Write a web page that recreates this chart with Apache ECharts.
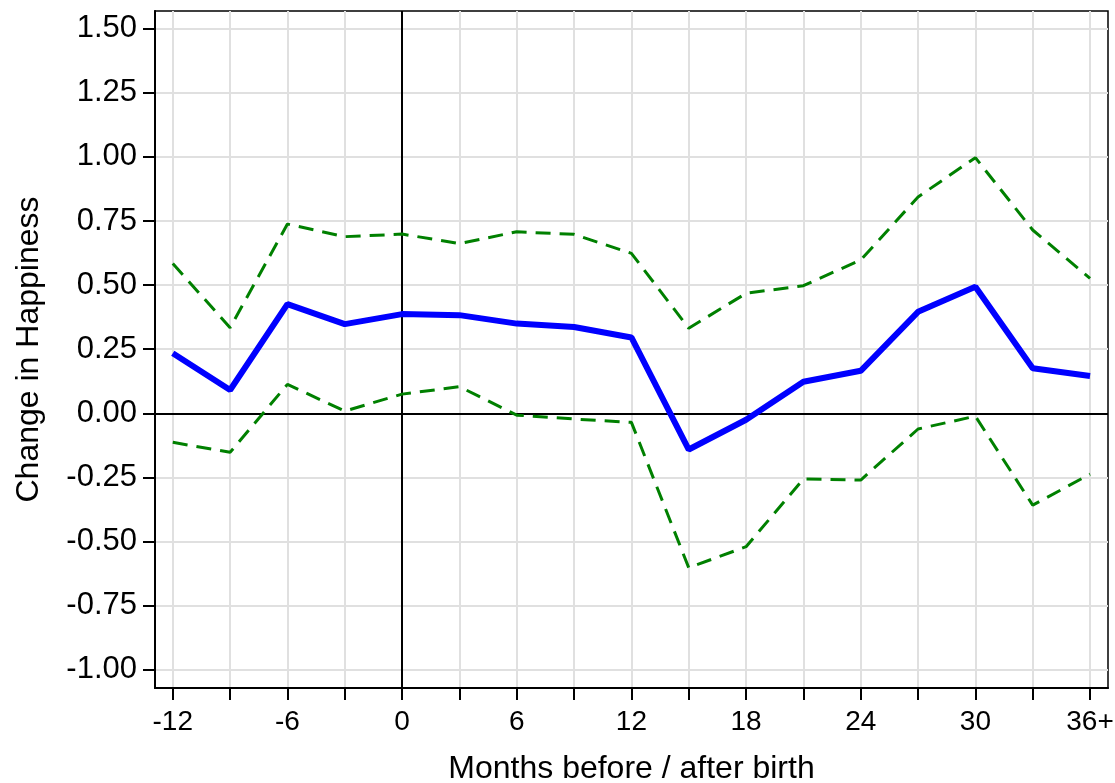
<!DOCTYPE html>
<html>
<head>
<meta charset="utf-8">
<script src="https://cdn.jsdelivr.net/npm/echarts@6/dist/echarts.min.js"></script>
<style>
  html, body { margin: 0; padding: 0; background: #fff; }
  #chart { width: 1115px; height: 783px; }
</style>
</head>
<body>
<div id="chart"></div>
<script>
// Months relative to birth (last bin is 36 and beyond)
const months = [-12, -9, -6, -3, 0, 3, 6, 9, 12, 15, 18, 21, 24, 27, 30, 33, 36];
// Estimated change in happiness
const estimate = [0.234, 0.091, 0.426, 0.348, 0.387, 0.383, 0.350, 0.337, 0.296, -0.141, -0.025, 0.123, 0.166, 0.396, 0.494, 0.176, 0.146];
// Confidence bounds
const upperCI = [0.584, 0.334, 0.738, 0.689, 0.699, 0.662, 0.708, 0.698, 0.624, 0.332, 0.468, 0.498, 0.598, 0.844, 0.997, 0.715, 0.526];
const lowerCI = [-0.113, -0.152, 0.113, 0.009, 0.075, 0.104, -0.007, -0.022, -0.035, -0.602, -0.520, -0.256, -0.260, -0.061, -0.011, -0.358, -0.237];

// Axis ticks and labels
const xTickValues = [-12, -9, -6, -3, 0, 3, 6, 9, 12, 15, 18, 21, 24, 27, 30, 33, 36];
const xLabelValues = [-12, -6, 0, 6, 12, 18, 24, 30, 36];
const xLabelText = ['-12', '-6', '0', '6', '12', '18', '24', '30', '36+'];
const yTickValues = [-1.00, -0.75, -0.50, -0.25, 0.00, 0.25, 0.50, 0.75, 1.00, 1.25, 1.50];

const FONT = "'Liberation Sans', Arial, Helvetica, sans-serif";

const pairs = (ys) => months.map((m, i) => [m, ys[i]]);

const chart = echarts.init(document.getElementById('chart'), null, { renderer: 'canvas' });

chart.setOption({
  animation: false,
  backgroundColor: '#ffffff',
  grid: {
    left: 155, right: 7, top: 11, bottom: 95,
    containLabel: false,
    outerBoundsMode: 'none',
    show: true,
    borderColor: '#000000',
    borderWidth: 1.5,
    backgroundColor: 'transparent'
  },
  xAxis: {
    type: 'value',
    min: -12.93,
    max: 36.94,
    name: 'Months before / after birth',
    nameLocation: 'middle',
    nameGap: 65,
    nameTextStyle: { fontFamily: FONT, fontSize: 32, color: '#000' },
    axisLine: { show: true, onZero: false, lineStyle: { color: '#000', width: 2 } },
    axisTick: { show: true, customValues: xTickValues, length: 12, lineStyle: { color: '#000', width: 2 } },
    axisLabel: {
      customValues: xLabelValues,
      margin: 20,
      fontFamily: FONT,
      fontSize: 28,
      color: '#000',
      formatter: (v) => xLabelText[xLabelValues.indexOf(v)]
    },
    splitLine: { show: true, lineStyle: { color: '#e0e0e0', width: 2 } }
  },
  yAxis: {
    type: 'value',
    min: -1.071,
    max: 1.569,
    name: 'Change in Happiness',
    nameLocation: 'middle',
    nameRotate: 90,
    nameGap: 110,
    nameTextStyle: { fontFamily: FONT, fontSize: 32, color: '#000' },
    axisLine: { show: true, onZero: false, lineStyle: { color: '#000', width: 2 } },
    axisTick: { show: true, customValues: yTickValues, length: 12, lineStyle: { color: '#000', width: 2 } },
    axisLabel: {
      customValues: yTickValues,
      margin: 18,
      fontFamily: FONT,
      fontSize: 31,
      color: '#000',
      formatter: (v) => v.toFixed(2)
    },
    splitLine: { show: true, lineStyle: { color: '#e0e0e0', width: 2 } }
  },
  series: [
    {
      name: 'Upper bound',
      type: 'line',
      data: pairs(upperCI),
      symbol: 'none',
      lineStyle: { color: '#008000', width: 3, type: [15, 9] },
      z: 3
    },
    {
      name: 'Lower bound',
      type: 'line',
      data: pairs(lowerCI),
      symbol: 'none',
      lineStyle: { color: '#008000', width: 3, type: [15, 9] },
      z: 3
    },
    {
      name: 'Estimate',
      type: 'line',
      data: pairs(estimate),
      symbol: 'none',
      lineStyle: { color: '#0000ff', width: 6 },
      z: 4,
      markLine: {
        silent: true,
        symbol: 'none',
        z: 2,
        label: { show: false },
        lineStyle: { color: '#000', width: 2, type: 'solid' },
        data: [{ xAxis: 0 }, { yAxis: 0 }]
      }
    }
  ]
});
</script>
</body>
</html>
